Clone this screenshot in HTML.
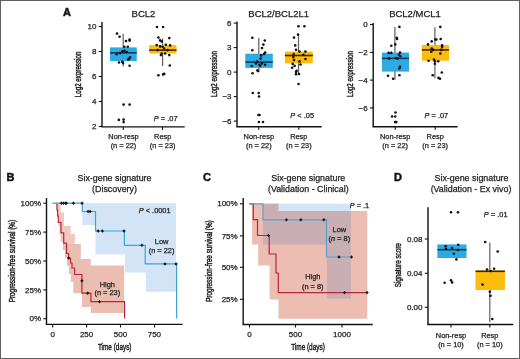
<!DOCTYPE html>
<html><head><meta charset="utf-8"><style>
html,body{margin:0;padding:0;background:#fff;}
svg{display:block;font-family:"Liberation Sans", sans-serif;will-change:transform;}
text{stroke:#1e1e1e;stroke-width:0.25px;}
</style></head><body>
<svg width="520" height="359" viewBox="0 0 520 359">
<rect x="0" y="0" width="520" height="359" fill="#fff"/>
<text x="63" y="16" font-size="11" text-anchor="start" font-weight="bold" font-style="normal" fill="#111" style="stroke:#111;stroke-width:0.45px">A</text>
<text x="143.5" y="16.6" font-size="9.5" text-anchor="middle" font-weight="normal" font-style="normal" fill="#1e1e1e" >BCL2</text>
<line x1="123.2" y1="33.8" x2="123.2" y2="66.6" stroke="#606060" stroke-width="1.2"/>
<rect x="110" y="47.4" width="26.80000000000001" height="13.600000000000001" fill="#2eaae2"/>
<line x1="110" y1="52.8" x2="136.8" y2="52.8" stroke="#0d3d5e" stroke-width="1.6"/>
<line x1="162.6" y1="38.4" x2="162.6" y2="66" stroke="#606060" stroke-width="1.2"/>
<rect x="149.2" y="45.1" width="27.30000000000001" height="8.399999999999999" fill="#fcbc0c"/>
<line x1="149.2" y1="50.1" x2="176.5" y2="50.1" stroke="#3b2600" stroke-width="1.6"/>
<circle cx="117" cy="33.6" r="1.3" fill="#111"/>
<circle cx="119.6" cy="36.8" r="1.3" fill="#111"/>
<circle cx="126" cy="41.1" r="1.3" fill="#111"/>
<circle cx="129.6" cy="39.5" r="1.3" fill="#111"/>
<circle cx="129.6" cy="40.6" r="1.3" fill="#111"/>
<circle cx="124.3" cy="46.7" r="1.3" fill="#111"/>
<circle cx="127.8" cy="46.7" r="1.3" fill="#111"/>
<circle cx="122.5" cy="51.4" r="1.3" fill="#111"/>
<circle cx="124.3" cy="50.8" r="1.3" fill="#111"/>
<circle cx="126.6" cy="52" r="1.3" fill="#111"/>
<circle cx="116.7" cy="54.3" r="1.3" fill="#111"/>
<circle cx="120.2" cy="53.1" r="1.3" fill="#111"/>
<circle cx="130.1" cy="57.2" r="1.3" fill="#111"/>
<circle cx="129" cy="59" r="1.3" fill="#111"/>
<circle cx="128.2" cy="59.6" r="1.3" fill="#111"/>
<circle cx="119" cy="62.5" r="1.3" fill="#111"/>
<circle cx="122.3" cy="61.9" r="1.3" fill="#111"/>
<circle cx="123.1" cy="63.1" r="1.3" fill="#111"/>
<circle cx="129.6" cy="65.7" r="1.3" fill="#111"/>
<circle cx="118.8" cy="119.9" r="1.3" fill="#111"/>
<circle cx="123.6" cy="122.1" r="1.3" fill="#111"/>
<circle cx="123.6" cy="119.6" r="1.3" fill="#111"/>
<circle cx="123.6" cy="104.6" r="1.3" fill="#111"/>
<circle cx="129.6" cy="104.6" r="1.3" fill="#111"/>
<circle cx="157" cy="27" r="1.3" fill="#111"/>
<circle cx="163.1" cy="27" r="1.3" fill="#111"/>
<circle cx="158.4" cy="37.6" r="1.3" fill="#111"/>
<circle cx="169.3" cy="38.1" r="1.3" fill="#111"/>
<circle cx="160.1" cy="40.4" r="1.3" fill="#111"/>
<circle cx="161.7" cy="41.4" r="1.3" fill="#111"/>
<circle cx="156.7" cy="45.1" r="1.3" fill="#111"/>
<circle cx="160.1" cy="46.4" r="1.3" fill="#111"/>
<circle cx="162.6" cy="46.8" r="1.3" fill="#111"/>
<circle cx="165.9" cy="44.8" r="1.3" fill="#111"/>
<circle cx="170.1" cy="45.4" r="1.3" fill="#111"/>
<circle cx="164.2" cy="48.5" r="1.3" fill="#111"/>
<circle cx="157.6" cy="50.1" r="1.3" fill="#111"/>
<circle cx="167.6" cy="50.1" r="1.3" fill="#111"/>
<circle cx="161.7" cy="53.5" r="1.3" fill="#111"/>
<circle cx="165.1" cy="53.5" r="1.3" fill="#111"/>
<circle cx="169.3" cy="55.1" r="1.3" fill="#111"/>
<circle cx="160.9" cy="55.1" r="1.3" fill="#111"/>
<circle cx="169.8" cy="65.5" r="1.3" fill="#111"/>
<circle cx="158.4" cy="75.2" r="1.3" fill="#111"/>
<circle cx="163.1" cy="74.4" r="1.3" fill="#111"/>
<circle cx="164.2" cy="73.9" r="1.3" fill="#111"/>
<line x1="102" y1="22" x2="102" y2="127" stroke="#111" stroke-width="1.4"/>
<line x1="98.8" y1="26.5" x2="102" y2="26.5" stroke="#111" stroke-width="1.1"/>
<text x="96.5" y="29.1" font-size="8" text-anchor="end" font-weight="normal" font-style="normal" fill="#1e1e1e" >10</text>
<line x1="98.8" y1="51.5" x2="102" y2="51.5" stroke="#111" stroke-width="1.1"/>
<text x="96.5" y="54.1" font-size="8" text-anchor="end" font-weight="normal" font-style="normal" fill="#1e1e1e" >8</text>
<line x1="98.8" y1="76.5" x2="102" y2="76.5" stroke="#111" stroke-width="1.1"/>
<text x="96.5" y="79.1" font-size="8" text-anchor="end" font-weight="normal" font-style="normal" fill="#1e1e1e" >6</text>
<line x1="98.8" y1="101.5" x2="102" y2="101.5" stroke="#111" stroke-width="1.1"/>
<text x="96.5" y="104.1" font-size="8" text-anchor="end" font-weight="normal" font-style="normal" fill="#1e1e1e" >4</text>
<line x1="98.8" y1="126.5" x2="102" y2="126.5" stroke="#111" stroke-width="1.1"/>
<text x="96.5" y="129.1" font-size="8" text-anchor="end" font-weight="normal" font-style="normal" fill="#1e1e1e" >2</text>
<line x1="101.3" y1="126.9" x2="184.7" y2="126.9" stroke="#111" stroke-width="1.4"/>
<line x1="123.3" y1="126.9" x2="123.3" y2="129.9" stroke="#111" stroke-width="1.1"/>
<line x1="162.5" y1="126.9" x2="162.5" y2="129.9" stroke="#111" stroke-width="1.1"/>
<text transform="translate(80.9,74.4) rotate(-90)" x="0" y="0" font-size="8.4" text-anchor="middle" fill="#1e1e1e" style="stroke-width:0.45px" textLength="45.5" lengthAdjust="spacingAndGlyphs">Log2 expression</text>
<text x="123.5" y="139.3" font-size="7.4" text-anchor="middle" font-weight="normal" font-style="normal" fill="#1e1e1e" >Non-resp</text>
<text x="123.5" y="147.9" font-size="7.4" text-anchor="middle" font-weight="normal" font-style="normal" fill="#1e1e1e" >(n = 22)</text>
<text x="162.7" y="139.3" font-size="7.4" text-anchor="middle" font-weight="normal" font-style="normal" fill="#1e1e1e" >Resp</text>
<text x="162.7" y="147.9" font-size="7.4" text-anchor="middle" font-weight="normal" font-style="normal" fill="#1e1e1e" >(n = 23)</text>
<text x="177.5" y="120.8" font-size="7.4" text-anchor="end" font-weight="normal" font-style="normal" fill="#1e1e1e" ><tspan font-style="italic">P</tspan> = .07</text>
<text x="278.7" y="16.6" font-size="9.5" text-anchor="middle" font-weight="normal" font-style="normal" fill="#1e1e1e" >BCL2/BCL2L1</text>
<line x1="258.8" y1="38.1" x2="258.8" y2="71.8" stroke="#606060" stroke-width="1.2"/>
<rect x="245.3" y="53.7" width="27.5" height="14.200000000000003" fill="#2eaae2"/>
<line x1="245.3" y1="62.1" x2="272.8" y2="62.1" stroke="#0d3d5e" stroke-width="1.6"/>
<line x1="298.5" y1="34.6" x2="298.5" y2="74.6" stroke="#606060" stroke-width="1.2"/>
<rect x="284.9" y="51.6" width="27.900000000000034" height="11.699999999999996" fill="#fcbc0c"/>
<line x1="284.9" y1="55.5" x2="312.8" y2="55.5" stroke="#3b2600" stroke-width="1.6"/>
<circle cx="252.3" cy="37.7" r="1.3" fill="#111"/>
<circle cx="264.8" cy="40.5" r="1.3" fill="#111"/>
<circle cx="263.4" cy="44.6" r="1.3" fill="#111"/>
<circle cx="262" cy="48.1" r="1.3" fill="#111"/>
<circle cx="252.3" cy="50.2" r="1.3" fill="#111"/>
<circle cx="265.1" cy="52.6" r="1.3" fill="#111"/>
<circle cx="264" cy="54" r="1.3" fill="#111"/>
<circle cx="261.2" cy="55.4" r="1.3" fill="#111"/>
<circle cx="260.6" cy="58.6" r="1.3" fill="#111"/>
<circle cx="257.4" cy="61.4" r="1.3" fill="#111"/>
<circle cx="256" cy="63.4" r="1.3" fill="#111"/>
<circle cx="262" cy="63.4" r="1.3" fill="#111"/>
<circle cx="259.5" cy="64.8" r="1.3" fill="#111"/>
<circle cx="265.1" cy="64.8" r="1.3" fill="#111"/>
<circle cx="251.8" cy="66" r="1.3" fill="#111"/>
<circle cx="260.2" cy="66" r="1.3" fill="#111"/>
<circle cx="257.4" cy="70.4" r="1.3" fill="#111"/>
<circle cx="258.1" cy="71.1" r="1.3" fill="#111"/>
<circle cx="252.5" cy="73.2" r="1.3" fill="#111"/>
<circle cx="252.8" cy="93" r="1.3" fill="#111"/>
<circle cx="258.7" cy="93" r="1.3" fill="#111"/>
<circle cx="259" cy="96.5" r="1.3" fill="#111"/>
<circle cx="258.4" cy="115" r="1.3" fill="#111"/>
<circle cx="259.5" cy="115" r="1.3" fill="#111"/>
<circle cx="258.9" cy="122" r="1.3" fill="#111"/>
<circle cx="263" cy="122" r="1.3" fill="#111"/>
<circle cx="298.5" cy="26.2" r="1.3" fill="#111"/>
<circle cx="304.4" cy="26.2" r="1.3" fill="#111"/>
<circle cx="298" cy="34.6" r="1.3" fill="#111"/>
<circle cx="294" cy="37.6" r="1.3" fill="#111"/>
<circle cx="295.2" cy="45.4" r="1.3" fill="#111"/>
<circle cx="296" cy="49.7" r="1.3" fill="#111"/>
<circle cx="299.5" cy="51.6" r="1.3" fill="#111"/>
<circle cx="305.4" cy="51.6" r="1.3" fill="#111"/>
<circle cx="293.7" cy="54.1" r="1.3" fill="#111"/>
<circle cx="303.4" cy="54.7" r="1.3" fill="#111"/>
<circle cx="293.3" cy="57.1" r="1.3" fill="#111"/>
<circle cx="305.4" cy="59" r="1.3" fill="#111"/>
<circle cx="294" cy="60" r="1.3" fill="#111"/>
<circle cx="299.5" cy="61.4" r="1.3" fill="#111"/>
<circle cx="292.7" cy="63.9" r="1.3" fill="#111"/>
<circle cx="300.5" cy="64.5" r="1.3" fill="#111"/>
<circle cx="294.6" cy="65.9" r="1.3" fill="#111"/>
<circle cx="292.1" cy="67.8" r="1.3" fill="#111"/>
<circle cx="296.6" cy="70.7" r="1.3" fill="#111"/>
<circle cx="296" cy="74.2" r="1.3" fill="#111"/>
<circle cx="298.5" cy="84" r="1.3" fill="#111"/>
<circle cx="296" cy="72" r="1.3" fill="#111"/>
<circle cx="299" cy="74" r="1.3" fill="#111"/>
<line x1="237" y1="21.6" x2="237" y2="126.8" stroke="#111" stroke-width="1.4"/>
<line x1="233.8" y1="23.1" x2="237" y2="23.1" stroke="#111" stroke-width="1.1"/>
<text x="231.5" y="25.700000000000003" font-size="8" text-anchor="end" font-weight="normal" font-style="normal" fill="#1e1e1e" >6</text>
<line x1="233.8" y1="47.6" x2="237" y2="47.6" stroke="#111" stroke-width="1.1"/>
<text x="231.5" y="50.2" font-size="8" text-anchor="end" font-weight="normal" font-style="normal" fill="#1e1e1e" >3</text>
<line x1="233.8" y1="72.1" x2="237" y2="72.1" stroke="#111" stroke-width="1.1"/>
<text x="231.5" y="74.69999999999999" font-size="8" text-anchor="end" font-weight="normal" font-style="normal" fill="#1e1e1e" >0</text>
<line x1="233.8" y1="96.6" x2="237" y2="96.6" stroke="#111" stroke-width="1.1"/>
<text x="231.5" y="99.19999999999999" font-size="8" text-anchor="end" font-weight="normal" font-style="normal" fill="#1e1e1e" >−3</text>
<line x1="233.8" y1="121.1" x2="237" y2="121.1" stroke="#111" stroke-width="1.1"/>
<text x="231.5" y="123.69999999999999" font-size="8" text-anchor="end" font-weight="normal" font-style="normal" fill="#1e1e1e" >−6</text>
<line x1="236.3" y1="126.8" x2="321.7" y2="126.8" stroke="#111" stroke-width="1.4"/>
<line x1="258.7" y1="126.8" x2="258.7" y2="129.8" stroke="#111" stroke-width="1.1"/>
<line x1="298.8" y1="126.8" x2="298.8" y2="129.8" stroke="#111" stroke-width="1.1"/>
<text transform="translate(217,74.1) rotate(-90)" x="0" y="0" font-size="8.4" text-anchor="middle" fill="#1e1e1e" style="stroke-width:0.45px" textLength="46" lengthAdjust="spacingAndGlyphs">Log2 expression</text>
<text x="258.8" y="139.3" font-size="7.4" text-anchor="middle" font-weight="normal" font-style="normal" fill="#1e1e1e" >Non-resp</text>
<text x="258.8" y="147.9" font-size="7.4" text-anchor="middle" font-weight="normal" font-style="normal" fill="#1e1e1e" >(n = 22)</text>
<text x="298.8" y="139.3" font-size="7.4" text-anchor="middle" font-weight="normal" font-style="normal" fill="#1e1e1e" >Resp</text>
<text x="298.8" y="147.9" font-size="7.4" text-anchor="middle" font-weight="normal" font-style="normal" fill="#1e1e1e" >(n = 23)</text>
<text x="314" y="118" font-size="7.4" text-anchor="end" font-weight="normal" font-style="normal" fill="#1e1e1e" ><tspan font-style="italic">P</tspan> &lt; .05</text>
<text x="415" y="16.6" font-size="9.5" text-anchor="middle" font-weight="normal" font-style="normal" fill="#1e1e1e" >BCL2/MCL1</text>
<line x1="394.9" y1="26.9" x2="394.9" y2="79.7" stroke="#606060" stroke-width="1.2"/>
<rect x="381.9" y="52.6" width="27.100000000000023" height="18.999999999999993" fill="#2eaae2"/>
<line x1="381.9" y1="58.4" x2="409" y2="58.4" stroke="#0d3d5e" stroke-width="1.6"/>
<line x1="434.9" y1="27.2" x2="434.9" y2="78.3" stroke="#606060" stroke-width="1.2"/>
<rect x="421.9" y="45" width="27.100000000000023" height="15.700000000000003" fill="#fcbc0c"/>
<line x1="421.9" y1="49.9" x2="449" y2="49.9" stroke="#3b2600" stroke-width="1.6"/>
<circle cx="399.4" cy="26.9" r="1.3" fill="#111"/>
<circle cx="396.7" cy="37.7" r="1.3" fill="#111"/>
<circle cx="397.1" cy="39" r="1.3" fill="#111"/>
<circle cx="395.3" cy="44.4" r="1.3" fill="#111"/>
<circle cx="391.3" cy="45.7" r="1.3" fill="#111"/>
<circle cx="388.6" cy="52.9" r="1.3" fill="#111"/>
<circle cx="391.3" cy="52.9" r="1.3" fill="#111"/>
<circle cx="400" cy="52.6" r="1.3" fill="#111"/>
<circle cx="398.9" cy="54.8" r="1.3" fill="#111"/>
<circle cx="400.3" cy="56.2" r="1.3" fill="#111"/>
<circle cx="389.1" cy="58.4" r="1.3" fill="#111"/>
<circle cx="395.8" cy="58" r="1.3" fill="#111"/>
<circle cx="397.6" cy="58.4" r="1.3" fill="#111"/>
<circle cx="400" cy="66.7" r="1.3" fill="#111"/>
<circle cx="399.4" cy="68.5" r="1.3" fill="#111"/>
<circle cx="388" cy="75.7" r="1.3" fill="#111"/>
<circle cx="399.4" cy="75.2" r="1.3" fill="#111"/>
<circle cx="393.1" cy="78.8" r="1.3" fill="#111"/>
<circle cx="392.1" cy="116.5" r="1.3" fill="#111"/>
<circle cx="395.5" cy="112.5" r="1.3" fill="#111"/>
<circle cx="395.2" cy="116.5" r="1.3" fill="#111"/>
<circle cx="395.2" cy="122.1" r="1.3" fill="#111"/>
<circle cx="396.2" cy="122.1" r="1.3" fill="#111"/>
<circle cx="440.3" cy="26.9" r="1.3" fill="#111"/>
<circle cx="431.7" cy="41.4" r="1.3" fill="#111"/>
<circle cx="435.3" cy="39.5" r="1.3" fill="#111"/>
<circle cx="436.4" cy="39.5" r="1.3" fill="#111"/>
<circle cx="440.7" cy="39" r="1.3" fill="#111"/>
<circle cx="428" cy="44.4" r="1.3" fill="#111"/>
<circle cx="442.1" cy="45.3" r="1.3" fill="#111"/>
<circle cx="442.1" cy="47.1" r="1.3" fill="#111"/>
<circle cx="431.7" cy="48.6" r="1.3" fill="#111"/>
<circle cx="433.1" cy="49.9" r="1.3" fill="#111"/>
<circle cx="431.3" cy="51.7" r="1.3" fill="#111"/>
<circle cx="441.2" cy="49.9" r="1.3" fill="#111"/>
<circle cx="440.3" cy="53.5" r="1.3" fill="#111"/>
<circle cx="428.6" cy="60.7" r="1.3" fill="#111"/>
<circle cx="434" cy="59.5" r="1.3" fill="#111"/>
<circle cx="434.9" cy="61.3" r="1.3" fill="#111"/>
<circle cx="438.2" cy="61.3" r="1.3" fill="#111"/>
<circle cx="434.9" cy="63.8" r="1.3" fill="#111"/>
<circle cx="441.8" cy="72.5" r="1.3" fill="#111"/>
<circle cx="432.7" cy="75.2" r="1.3" fill="#111"/>
<circle cx="438.5" cy="77.9" r="1.3" fill="#111"/>
<circle cx="440" cy="78.8" r="1.3" fill="#111"/>
<line x1="373.2" y1="23" x2="373.2" y2="126.6" stroke="#111" stroke-width="1.4"/>
<line x1="370.0" y1="24.5" x2="373.2" y2="24.5" stroke="#111" stroke-width="1.1"/>
<text x="367.7" y="27.1" font-size="8" text-anchor="end" font-weight="normal" font-style="normal" fill="#1e1e1e" >0</text>
<line x1="370.0" y1="52.4" x2="373.2" y2="52.4" stroke="#111" stroke-width="1.1"/>
<text x="367.7" y="55.0" font-size="8" text-anchor="end" font-weight="normal" font-style="normal" fill="#1e1e1e" >−2</text>
<line x1="370.0" y1="80.1" x2="373.2" y2="80.1" stroke="#111" stroke-width="1.1"/>
<text x="367.7" y="82.69999999999999" font-size="8" text-anchor="end" font-weight="normal" font-style="normal" fill="#1e1e1e" >−4</text>
<line x1="370.0" y1="107.9" x2="373.2" y2="107.9" stroke="#111" stroke-width="1.1"/>
<text x="367.7" y="110.5" font-size="8" text-anchor="end" font-weight="normal" font-style="normal" fill="#1e1e1e" >−6</text>
<line x1="372.5" y1="126.7" x2="457.6" y2="126.7" stroke="#111" stroke-width="1.4"/>
<line x1="395.2" y1="126.7" x2="395.2" y2="129.7" stroke="#111" stroke-width="1.1"/>
<line x1="435.2" y1="126.7" x2="435.2" y2="129.7" stroke="#111" stroke-width="1.1"/>
<text transform="translate(353,74.1) rotate(-90)" x="0" y="0" font-size="8.4" text-anchor="middle" fill="#1e1e1e" style="stroke-width:0.45px" textLength="46" lengthAdjust="spacingAndGlyphs">Log2 expression</text>
<text x="395.2" y="139.3" font-size="7.4" text-anchor="middle" font-weight="normal" font-style="normal" fill="#1e1e1e" >Non-resp</text>
<text x="395.2" y="147.9" font-size="7.4" text-anchor="middle" font-weight="normal" font-style="normal" fill="#1e1e1e" >(n = 22)</text>
<text x="435.2" y="139.3" font-size="7.4" text-anchor="middle" font-weight="normal" font-style="normal" fill="#1e1e1e" >Resp</text>
<text x="435.2" y="147.9" font-size="7.4" text-anchor="middle" font-weight="normal" font-style="normal" fill="#1e1e1e" >(n = 23)</text>
<text x="448.2" y="118" font-size="7.4" text-anchor="end" font-weight="normal" font-style="normal" fill="#1e1e1e" ><tspan font-style="italic">P</tspan> = .07</text>
<text x="6.5" y="181" font-size="11" text-anchor="start" font-weight="bold" font-style="normal" fill="#111" style="stroke:#111;stroke-width:0.45px">B</text>
<text x="114.5" y="180.7" font-size="8.9" text-anchor="middle" font-weight="normal" font-style="normal" fill="#1e1e1e" >Six-gene signature</text>
<text x="114.5" y="191.8" font-size="8.9" text-anchor="middle" font-weight="normal" font-style="normal" fill="#1e1e1e" >(Discovery)</text>
<path d="M82.3,203.2 H176 V291.8 H145.8 V272.4 H125 V254.5 H95.5 V225 H82.3 Z" fill="#d3e4f6"/>
<path d="M56.5,203.2 H60.7 V212.4 H64 V225.8 H70.7 V234 H74.9 V244 H63 V242 H60.5 V234 H59.5 V226 H58.3 V216 H57.3 V210 H56.5 Z" fill="#efcac1"/>
<path d="M63,244 H80.8 V259 H90.8 V265.5 H124.1 V313 H91 V307 H81.9 V293.2 H73.3 V282 H71 V274 H69 V266 H67 V258 H65 V250 H63 Z" fill="#ecbdb1"/>
<path d="M57,203.2 V210 H57.6 V216 H58.3 V222.4 H61 V232.8 H63.7 V243.2 H66.5 V253.5 H68.6 V258.3 H70.5 V263 H72 V268 H74.6 V274.5 H81.9 V293.2 H90.9 V301.7 H124.6 V318.6" fill="none" stroke="#b8263a" stroke-width="1.2"/>
<path d="M52.4,203.2 H82.3 V211.5 H95.5 V231 H124.4 V245.3 H145.2 V263.9 H176.6 V318.6" fill="none" stroke="#3aa3d8" stroke-width="1.2"/>
<line x1="59.8" y1="203.2" x2="63.0" y2="203.2" stroke="#1a1a1a" stroke-width="0.9"/>
<line x1="61.4" y1="201.6" x2="61.4" y2="204.79999999999998" stroke="#1a1a1a" stroke-width="0.9"/>
<circle cx="61.4" cy="203.2" r="1.0" fill="#111"/>
<line x1="61.8" y1="203.2" x2="65.0" y2="203.2" stroke="#1a1a1a" stroke-width="0.9"/>
<line x1="63.4" y1="201.6" x2="63.4" y2="204.79999999999998" stroke="#1a1a1a" stroke-width="0.9"/>
<circle cx="63.4" cy="203.2" r="1.0" fill="#111"/>
<line x1="63.800000000000004" y1="203.2" x2="67.0" y2="203.2" stroke="#1a1a1a" stroke-width="0.9"/>
<line x1="65.4" y1="201.6" x2="65.4" y2="204.79999999999998" stroke="#1a1a1a" stroke-width="0.9"/>
<circle cx="65.4" cy="203.2" r="1.0" fill="#111"/>
<line x1="64.80000000000001" y1="203.2" x2="68.0" y2="203.2" stroke="#1a1a1a" stroke-width="0.9"/>
<line x1="66.4" y1="201.6" x2="66.4" y2="204.79999999999998" stroke="#1a1a1a" stroke-width="0.9"/>
<circle cx="66.4" cy="203.2" r="1.0" fill="#111"/>
<line x1="71.80000000000001" y1="203.2" x2="75.0" y2="203.2" stroke="#1a1a1a" stroke-width="0.9"/>
<line x1="73.4" y1="201.6" x2="73.4" y2="204.79999999999998" stroke="#1a1a1a" stroke-width="0.9"/>
<circle cx="73.4" cy="203.2" r="1.0" fill="#111"/>
<line x1="80.5" y1="203.2" x2="83.69999999999999" y2="203.2" stroke="#1a1a1a" stroke-width="0.9"/>
<line x1="82.1" y1="201.6" x2="82.1" y2="204.79999999999998" stroke="#1a1a1a" stroke-width="0.9"/>
<circle cx="82.1" cy="203.2" r="1.0" fill="#111"/>
<line x1="86.5" y1="211.5" x2="89.69999999999999" y2="211.5" stroke="#1a1a1a" stroke-width="0.9"/>
<line x1="88.1" y1="209.9" x2="88.1" y2="213.1" stroke="#1a1a1a" stroke-width="0.9"/>
<circle cx="88.1" cy="211.5" r="1.0" fill="#111"/>
<line x1="88.5" y1="211.5" x2="91.69999999999999" y2="211.5" stroke="#1a1a1a" stroke-width="0.9"/>
<line x1="90.1" y1="209.9" x2="90.1" y2="213.1" stroke="#1a1a1a" stroke-width="0.9"/>
<circle cx="90.1" cy="211.5" r="1.0" fill="#111"/>
<line x1="96.5" y1="231" x2="99.69999999999999" y2="231" stroke="#1a1a1a" stroke-width="0.9"/>
<line x1="98.1" y1="229.4" x2="98.1" y2="232.6" stroke="#1a1a1a" stroke-width="0.9"/>
<circle cx="98.1" cy="231" r="1.0" fill="#111"/>
<line x1="100.80000000000001" y1="231" x2="104.0" y2="231" stroke="#1a1a1a" stroke-width="0.9"/>
<line x1="102.4" y1="229.4" x2="102.4" y2="232.6" stroke="#1a1a1a" stroke-width="0.9"/>
<circle cx="102.4" cy="231" r="1.0" fill="#111"/>
<line x1="122.4" y1="231" x2="125.6" y2="231" stroke="#1a1a1a" stroke-width="0.9"/>
<line x1="124.0" y1="229.4" x2="124.0" y2="232.6" stroke="#1a1a1a" stroke-width="0.9"/>
<circle cx="124.0" cy="231" r="1.0" fill="#111"/>
<line x1="140.3" y1="245.3" x2="143.5" y2="245.3" stroke="#1a1a1a" stroke-width="0.9"/>
<line x1="141.9" y1="243.70000000000002" x2="141.9" y2="246.9" stroke="#1a1a1a" stroke-width="0.9"/>
<circle cx="141.9" cy="245.3" r="1.0" fill="#111"/>
<line x1="163.4" y1="263.9" x2="166.6" y2="263.9" stroke="#1a1a1a" stroke-width="0.9"/>
<line x1="165" y1="262.29999999999995" x2="165" y2="265.5" stroke="#1a1a1a" stroke-width="0.9"/>
<circle cx="165" cy="263.9" r="1.0" fill="#111"/>
<line x1="174.4" y1="263.9" x2="177.6" y2="263.9" stroke="#1a1a1a" stroke-width="0.9"/>
<line x1="176" y1="262.29999999999995" x2="176" y2="265.5" stroke="#1a1a1a" stroke-width="0.9"/>
<circle cx="176" cy="263.9" r="1.0" fill="#111"/>
<line x1="67.0" y1="258.1" x2="70.19999999999999" y2="258.1" stroke="#1a1a1a" stroke-width="0.9"/>
<line x1="68.6" y1="256.5" x2="68.6" y2="259.70000000000005" stroke="#1a1a1a" stroke-width="0.9"/>
<circle cx="68.6" cy="258.1" r="1.0" fill="#111"/>
<line x1="80.30000000000001" y1="280.8" x2="83.5" y2="280.8" stroke="#1a1a1a" stroke-width="0.9"/>
<line x1="81.9" y1="279.2" x2="81.9" y2="282.40000000000003" stroke="#1a1a1a" stroke-width="0.9"/>
<circle cx="81.9" cy="280.8" r="1.0" fill="#111"/>
<line x1="86.10000000000001" y1="293.2" x2="89.3" y2="293.2" stroke="#1a1a1a" stroke-width="0.9"/>
<line x1="87.7" y1="291.59999999999997" x2="87.7" y2="294.8" stroke="#1a1a1a" stroke-width="0.9"/>
<circle cx="87.7" cy="293.2" r="1.0" fill="#111"/>
<line x1="97.9" y1="301.7" x2="101.1" y2="301.7" stroke="#1a1a1a" stroke-width="0.9"/>
<line x1="99.5" y1="300.09999999999997" x2="99.5" y2="303.3" stroke="#1a1a1a" stroke-width="0.9"/>
<circle cx="99.5" cy="301.7" r="1.0" fill="#111"/>
<line x1="46.5" y1="198" x2="46.5" y2="324.4" stroke="#111" stroke-width="1.4"/>
<line x1="43.3" y1="203.2" x2="46.5" y2="203.2" stroke="#111" stroke-width="1.1"/>
<text x="41.0" y="205.79999999999998" font-size="8" text-anchor="end" font-weight="normal" font-style="normal" fill="#1e1e1e" >100%</text>
<line x1="43.3" y1="232.1" x2="46.5" y2="232.1" stroke="#111" stroke-width="1.1"/>
<text x="41.0" y="234.7" font-size="8" text-anchor="end" font-weight="normal" font-style="normal" fill="#1e1e1e" >75%</text>
<line x1="43.3" y1="261" x2="46.5" y2="261" stroke="#111" stroke-width="1.1"/>
<text x="41.0" y="263.6" font-size="8" text-anchor="end" font-weight="normal" font-style="normal" fill="#1e1e1e" >50%</text>
<line x1="43.3" y1="289.9" x2="46.5" y2="289.9" stroke="#111" stroke-width="1.1"/>
<text x="41.0" y="292.5" font-size="8" text-anchor="end" font-weight="normal" font-style="normal" fill="#1e1e1e" >25%</text>
<line x1="43.3" y1="318.7" x2="46.5" y2="318.7" stroke="#111" stroke-width="1.1"/>
<text x="41.0" y="321.3" font-size="8" text-anchor="end" font-weight="normal" font-style="normal" fill="#1e1e1e" >0%</text>
<line x1="45.8" y1="324.4" x2="182.6" y2="324.4" stroke="#111" stroke-width="1.4"/>
<line x1="52.7" y1="324.4" x2="52.7" y2="327.4" stroke="#111" stroke-width="1.1"/>
<line x1="86.6" y1="324.4" x2="86.6" y2="327.4" stroke="#111" stroke-width="1.1"/>
<line x1="120.5" y1="324.4" x2="120.5" y2="327.4" stroke="#111" stroke-width="1.1"/>
<line x1="154.6" y1="324.4" x2="154.6" y2="327.4" stroke="#111" stroke-width="1.1"/>
<text x="52.7" y="337.4" font-size="8" text-anchor="middle" font-weight="normal" font-style="normal" fill="#1e1e1e" >0</text>
<text x="86.6" y="337.4" font-size="8" text-anchor="middle" font-weight="normal" font-style="normal" fill="#1e1e1e" >250</text>
<text x="120.5" y="337.4" font-size="8" text-anchor="middle" font-weight="normal" font-style="normal" fill="#1e1e1e" >500</text>
<text x="154.4" y="337.4" font-size="8" text-anchor="middle" font-weight="normal" font-style="normal" fill="#1e1e1e" >750</text>
<text x="114.7" y="350.2" font-size="9.6" text-anchor="middle" font-weight="normal" font-style="normal" fill="#1e1e1e" textLength="33.6" lengthAdjust="spacingAndGlyphs" style="stroke-width:0.45px">Time (days)</text>
<text transform="translate(14.5,261.1) rotate(-90)" x="0" y="0" font-size="8.4" text-anchor="middle" fill="#1e1e1e" style="stroke-width:0.45px" textLength="82.5" lengthAdjust="spacingAndGlyphs">Progression-free survival (%)</text>
<text x="170.6" y="212.8" font-size="7.4" text-anchor="end" font-weight="normal" font-style="normal" fill="#1e1e1e" ><tspan font-style="italic">P</tspan> &lt; .0001</text>
<text x="161.6" y="244.4" font-size="7.4" text-anchor="middle" font-weight="normal" font-style="normal" fill="#1e1e1e" >Low</text>
<text x="161.6" y="253.2" font-size="7.4" text-anchor="middle" font-weight="normal" font-style="normal" fill="#1e1e1e" >(n = 22)</text>
<text x="107.3" y="286.5" font-size="7.4" text-anchor="middle" font-weight="normal" font-style="normal" fill="#1e1e1e" >High</text>
<text x="107.3" y="295.3" font-size="7.4" text-anchor="middle" font-weight="normal" font-style="normal" fill="#1e1e1e" >(n = 23)</text>
<text x="203" y="181" font-size="11" text-anchor="start" font-weight="bold" font-style="normal" fill="#111" style="stroke:#111;stroke-width:0.45px">C</text>
<text x="308.3" y="180.7" font-size="8.9" text-anchor="middle" font-weight="normal" font-style="normal" fill="#1e1e1e" >Six-gene signature</text>
<text x="308.3" y="191.8" font-size="8.9" text-anchor="middle" font-weight="normal" font-style="normal" fill="#1e1e1e" >(Validation - Clinical)</text>
<path d="M252,203.7 H278.4 V211 H367.3 V318.8 H278.5 V299.6 H269.6 V265.4 H258.2 V244.6 H252 Z" fill="#ecbdb1"/>
<rect x="278.4" y="203.7" width="72.60000000000002" height="7.3" fill="#d3e4f6"/>
<path d="M263,203.7 H278.4 V211 H351 V298.6 H326.8 V244.6 H263 Z" fill="#c9aeb4"/>
<path d="M249.4,203.8 H253.3 V219.6 H257.5 V235.5 H269.2 V254 H276 V273 H278.3 V292.6 H367.3" fill="none" stroke="#b8263a" stroke-width="1.2"/>
<path d="M249.4,203.8 H263 V219.8 H326.5 V257 H351.5" fill="none" stroke="#5c9fca" stroke-width="1.2"/>
<line x1="284.79999999999995" y1="219.8" x2="288.0" y2="219.8" stroke="#1a1a1a" stroke-width="0.9"/>
<line x1="286.4" y1="218.20000000000002" x2="286.4" y2="221.4" stroke="#1a1a1a" stroke-width="0.9"/>
<circle cx="286.4" cy="219.8" r="1.0" fill="#111"/>
<line x1="299.2" y1="219.8" x2="302.40000000000003" y2="219.8" stroke="#1a1a1a" stroke-width="0.9"/>
<line x1="300.8" y1="218.20000000000002" x2="300.8" y2="221.4" stroke="#1a1a1a" stroke-width="0.9"/>
<circle cx="300.8" cy="219.8" r="1.0" fill="#111"/>
<line x1="322.2" y1="219.8" x2="325.40000000000003" y2="219.8" stroke="#1a1a1a" stroke-width="0.9"/>
<line x1="323.8" y1="218.20000000000002" x2="323.8" y2="221.4" stroke="#1a1a1a" stroke-width="0.9"/>
<circle cx="323.8" cy="219.8" r="1.0" fill="#111"/>
<line x1="337.4" y1="257" x2="340.6" y2="257" stroke="#1a1a1a" stroke-width="0.9"/>
<line x1="339" y1="255.4" x2="339" y2="258.6" stroke="#1a1a1a" stroke-width="0.9"/>
<circle cx="339" cy="257" r="1.0" fill="#111"/>
<line x1="349.9" y1="257" x2="353.1" y2="257" stroke="#1a1a1a" stroke-width="0.9"/>
<line x1="351.5" y1="255.4" x2="351.5" y2="258.6" stroke="#1a1a1a" stroke-width="0.9"/>
<circle cx="351.5" cy="257" r="1.0" fill="#111"/>
<line x1="266.9" y1="235.5" x2="270.1" y2="235.5" stroke="#1a1a1a" stroke-width="0.9"/>
<line x1="268.5" y1="233.9" x2="268.5" y2="237.1" stroke="#1a1a1a" stroke-width="0.9"/>
<circle cx="268.5" cy="235.5" r="1.0" fill="#111"/>
<line x1="342.9" y1="292.6" x2="346.1" y2="292.6" stroke="#1a1a1a" stroke-width="0.9"/>
<line x1="344.5" y1="291.0" x2="344.5" y2="294.20000000000005" stroke="#1a1a1a" stroke-width="0.9"/>
<circle cx="344.5" cy="292.6" r="1.0" fill="#111"/>
<line x1="365.4" y1="292.6" x2="368.6" y2="292.6" stroke="#1a1a1a" stroke-width="0.9"/>
<line x1="367" y1="291.0" x2="367" y2="294.20000000000005" stroke="#1a1a1a" stroke-width="0.9"/>
<circle cx="367" cy="292.6" r="1.0" fill="#111"/>
<line x1="243.2" y1="198" x2="243.2" y2="324.5" stroke="#111" stroke-width="1.4"/>
<line x1="240.0" y1="203.8" x2="243.2" y2="203.8" stroke="#111" stroke-width="1.1"/>
<text x="237.7" y="206.4" font-size="8" text-anchor="end" font-weight="normal" font-style="normal" fill="#1e1e1e" >100%</text>
<line x1="240.0" y1="235.9" x2="243.2" y2="235.9" stroke="#111" stroke-width="1.1"/>
<text x="237.7" y="238.5" font-size="8" text-anchor="end" font-weight="normal" font-style="normal" fill="#1e1e1e" >75%</text>
<line x1="240.0" y1="267.3" x2="243.2" y2="267.3" stroke="#111" stroke-width="1.1"/>
<text x="237.7" y="269.90000000000003" font-size="8" text-anchor="end" font-weight="normal" font-style="normal" fill="#1e1e1e" >50%</text>
<line x1="240.0" y1="299.3" x2="243.2" y2="299.3" stroke="#111" stroke-width="1.1"/>
<text x="237.7" y="301.90000000000003" font-size="8" text-anchor="end" font-weight="normal" font-style="normal" fill="#1e1e1e" >25%</text>
<line x1="242.5" y1="324.5" x2="372.7" y2="324.5" stroke="#111" stroke-width="1.4"/>
<line x1="249.5" y1="324.5" x2="249.5" y2="327.5" stroke="#111" stroke-width="1.1"/>
<line x1="295.5" y1="324.5" x2="295.5" y2="327.5" stroke="#111" stroke-width="1.1"/>
<line x1="342" y1="324.5" x2="342" y2="327.5" stroke="#111" stroke-width="1.1"/>
<text x="249.5" y="337.4" font-size="8" text-anchor="middle" font-weight="normal" font-style="normal" fill="#1e1e1e" >0</text>
<text x="295.5" y="337.4" font-size="8" text-anchor="middle" font-weight="normal" font-style="normal" fill="#1e1e1e" >500</text>
<text x="342" y="337.4" font-size="8" text-anchor="middle" font-weight="normal" font-style="normal" fill="#1e1e1e" >1000</text>
<text x="308" y="350.2" font-size="9.6" text-anchor="middle" font-weight="normal" font-style="normal" fill="#1e1e1e" textLength="33.6" lengthAdjust="spacingAndGlyphs" style="stroke-width:0.45px">Time (days)</text>
<text transform="translate(212,261.1) rotate(-90)" x="0" y="0" font-size="8.4" text-anchor="middle" fill="#1e1e1e" style="stroke-width:0.45px" textLength="81.5" lengthAdjust="spacingAndGlyphs">Progression-free survival (%)</text>
<text x="369.2" y="208.3" font-size="7.4" text-anchor="end" font-weight="normal" font-style="normal" fill="#1e1e1e" ><tspan font-style="italic">P</tspan> = .1</text>
<text x="339.3" y="232.3" font-size="7.4" text-anchor="middle" font-weight="normal" font-style="normal" fill="#1e1e1e" >Low</text>
<text x="339.3" y="241" font-size="7.4" text-anchor="middle" font-weight="normal" font-style="normal" fill="#1e1e1e" >(<tspan font-style="italic">n</tspan> = 8)</text>
<text x="312.8" y="279" font-size="7.4" text-anchor="middle" font-weight="normal" font-style="normal" fill="#1e1e1e" >High</text>
<text x="312.8" y="289" font-size="7.4" text-anchor="middle" font-weight="normal" font-style="normal" fill="#1e1e1e" >(n = 8)</text>
<text x="394" y="181" font-size="11" text-anchor="start" font-weight="bold" font-style="normal" fill="#111" style="stroke:#111;stroke-width:0.45px">D</text>
<text x="471.5" y="180.7" font-size="8.9" text-anchor="middle" font-weight="normal" font-style="normal" fill="#1e1e1e" >Six-gene signature</text>
<text x="471" y="191.8" font-size="8.9" text-anchor="middle" font-weight="normal" font-style="normal" fill="#1e1e1e" >(Validation - Ex vivo)</text>
<line x1="451" y1="244.4" x2="451" y2="258" stroke="#606060" stroke-width="1.2"/>
<rect x="437.4" y="244.4" width="29.100000000000023" height="13.599999999999994" fill="#2eaae2"/>
<line x1="437.4" y1="249.7" x2="466.5" y2="249.7" stroke="#0d3d5e" stroke-width="1.6"/>
<line x1="489.8" y1="242.6" x2="489.8" y2="322" stroke="#606060" stroke-width="1.2"/>
<rect x="475.5" y="270.6" width="29.399999999999977" height="19.399999999999977" fill="#fcbc0c"/>
<line x1="475.5" y1="271.3" x2="504.9" y2="271.3" stroke="#3b2600" stroke-width="1.6"/>
<circle cx="451" cy="212.3" r="1.3" fill="#111"/>
<circle cx="458" cy="212.3" r="1.3" fill="#111"/>
<circle cx="445.7" cy="246.2" r="1.3" fill="#111"/>
<circle cx="458.2" cy="244.7" r="1.3" fill="#111"/>
<circle cx="452" cy="248" r="1.3" fill="#111"/>
<circle cx="458" cy="250" r="1.3" fill="#111"/>
<circle cx="453.9" cy="253.7" r="1.3" fill="#111"/>
<circle cx="456.4" cy="259.4" r="1.3" fill="#111"/>
<circle cx="444.6" cy="282.8" r="1.3" fill="#111"/>
<circle cx="451" cy="280.3" r="1.3" fill="#111"/>
<circle cx="452.1" cy="282.4" r="1.3" fill="#111"/>
<circle cx="446" cy="249" r="1.3" fill="#111"/>
<circle cx="485.2" cy="242" r="1.3" fill="#111"/>
<circle cx="497.7" cy="251.5" r="1.3" fill="#111"/>
<circle cx="487" cy="269.5" r="1.3" fill="#111"/>
<circle cx="494.1" cy="268.8" r="1.3" fill="#111"/>
<circle cx="482.6" cy="284.6" r="1.3" fill="#111"/>
<circle cx="489.8" cy="291.8" r="1.3" fill="#111"/>
<circle cx="490.5" cy="295.7" r="1.3" fill="#111"/>
<circle cx="492.3" cy="319" r="1.3" fill="#111"/>
<circle cx="490.8" cy="271" r="1.3" fill="#111"/>
<line x1="428" y1="207.3" x2="428" y2="324.5" stroke="#111" stroke-width="1.4"/>
<line x1="424.8" y1="239" x2="428" y2="239" stroke="#111" stroke-width="1.1"/>
<text x="422.5" y="241.6" font-size="8" text-anchor="end" font-weight="normal" font-style="normal" fill="#1e1e1e" >0.08</text>
<line x1="424.8" y1="273.3" x2="428" y2="273.3" stroke="#111" stroke-width="1.1"/>
<text x="422.5" y="275.90000000000003" font-size="8" text-anchor="end" font-weight="normal" font-style="normal" fill="#1e1e1e" >0.04</text>
<line x1="424.8" y1="307.3" x2="428" y2="307.3" stroke="#111" stroke-width="1.1"/>
<text x="422.5" y="309.90000000000003" font-size="8" text-anchor="end" font-weight="normal" font-style="normal" fill="#1e1e1e" >0.00</text>
<line x1="427.3" y1="324.5" x2="513.3" y2="324.5" stroke="#111" stroke-width="1.4"/>
<line x1="451" y1="324.5" x2="451" y2="327.5" stroke="#111" stroke-width="1.1"/>
<line x1="489.8" y1="324.5" x2="489.8" y2="327.5" stroke="#111" stroke-width="1.1"/>
<text transform="translate(401.2,265.2) rotate(-90)" x="0" y="0" font-size="8.4" text-anchor="middle" fill="#1e1e1e" style="stroke-width:0.45px" textLength="44" lengthAdjust="spacingAndGlyphs">Signature score</text>
<text x="451" y="337.8" font-size="7.4" text-anchor="middle" font-weight="normal" font-style="normal" fill="#1e1e1e" >Non-resp</text>
<text x="451" y="346.6" font-size="7.4" text-anchor="middle" font-weight="normal" font-style="normal" fill="#1e1e1e" >(n = 10)</text>
<text x="489.8" y="337.8" font-size="7.4" text-anchor="middle" font-weight="normal" font-style="normal" fill="#1e1e1e" >Resp</text>
<text x="489.8" y="346.6" font-size="7.4" text-anchor="middle" font-weight="normal" font-style="normal" fill="#1e1e1e" >(n = 10)</text>
<text x="507.5" y="216.8" font-size="7.4" text-anchor="end" font-weight="normal" font-style="normal" fill="#1e1e1e" ><tspan font-style="italic">P</tspan> = .01</text>
<rect x="0.5" y="0.5" width="519" height="358" fill="none" stroke="#606060" stroke-width="1"/>
</svg>
</body></html>
